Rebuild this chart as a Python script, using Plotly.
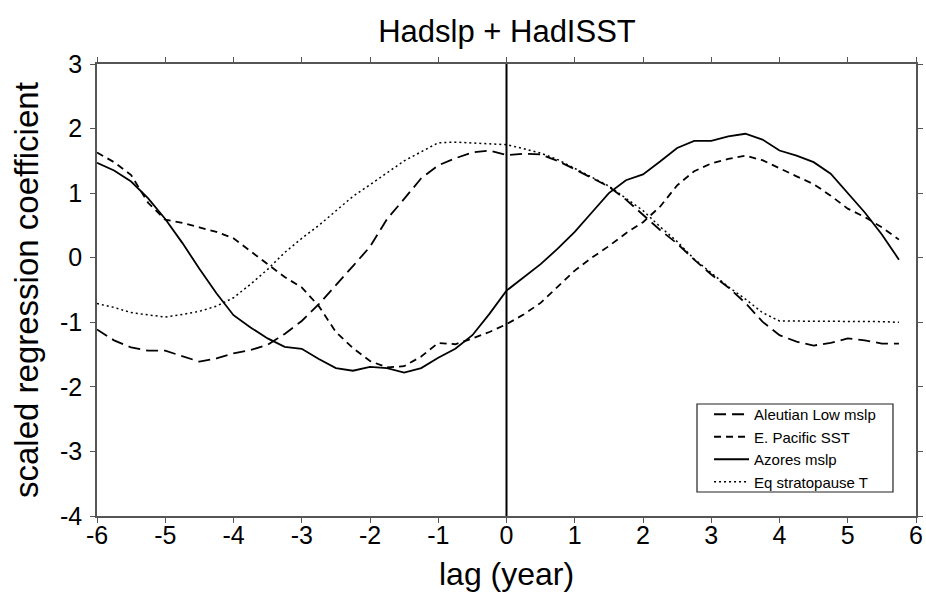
import plotly.graph_objects as go

lags = [-6 + 0.25 * i for i in range(48)]

aleutian = [-1.11, -1.28, -1.39, -1.44, -1.44, -1.52, -1.61, -1.56, -1.48, -1.43, -1.35, -1.18,
            -0.98, -0.72, -0.43, -0.13, 0.17, 0.60, 0.91, 1.23, 1.43, 1.54, 1.63, 1.66,
            1.59, 1.61, 1.60, 1.50, 1.37, 1.24, 1.10, 0.90, 0.66, 0.43, 0.22, -0.03,
            -0.26, -0.46, -0.70, -0.99, -1.20, -1.30, -1.36, -1.32, -1.25, -1.28, -1.33, -1.33]

epac_sst = [1.63, 1.48, 1.28, 0.85, 0.59, 0.54, 0.47, 0.40, 0.30, 0.10, -0.11, -0.30,
            -0.46, -0.75, -1.15, -1.40, -1.60, -1.70, -1.68, -1.53, -1.32, -1.34, -1.25, -1.15,
            -1.03, -0.88, -0.70, -0.45, -0.20, 0.00, 0.18, 0.38, 0.55, 0.79, 1.12, 1.34,
            1.46, 1.53, 1.58, 1.51, 1.38, 1.26, 1.14, 0.96, 0.76, 0.63, 0.47, 0.28]

azores = [1.47, 1.35, 1.18, 0.92, 0.60, 0.23, -0.17, -0.55, -0.89, -1.08, -1.25, -1.38,
          -1.41, -1.57, -1.71, -1.75, -1.69, -1.71, -1.78, -1.71, -1.55, -1.41, -1.20, -0.87,
          -0.51, -0.30, -0.10, 0.14, 0.40, 0.70, 1.00, 1.20, 1.29, 1.49, 1.70, 1.81,
          1.81, 1.88, 1.92, 1.83, 1.66, 1.58, 1.48, 1.30, 1.00, 0.70, 0.36, -0.03]

eq_strat = [-0.71, -0.77, -0.85, -0.89, -0.92, -0.88, -0.83, -0.75, -0.62, -0.41, -0.18, 0.08,
            0.30, 0.50, 0.72, 0.95, 1.13, 1.31, 1.50, 1.64, 1.78, 1.79, 1.78, 1.77,
            1.75, 1.69, 1.62, 1.52, 1.38, 1.25, 1.11, 0.92, 0.73, 0.48, 0.25, -0.02,
            -0.24, -0.45, -0.64, -0.85, -0.98, -0.98, -0.98, -0.98, -0.98, -0.99, -0.99, -1.00]

x_ticks = list(range(-6, 7))
y_ticks = list(range(-4, 4))

FONT = "Liberation Sans Narrow, Arial Narrow, Liberation Sans, Arial, sans-serif"

fig = go.Figure()
series = [
    ("Aleutian Low mslp", aleutian, "12px,6px", 1.8),
    ("E. Pacific SST", epac_sst, "7px,5px", 1.8),
    ("Azores mslp", azores, "solid", 1.8),
    ("Eq stratopause T", eq_strat, "2px,3px", 1.5),
]
for name, ys, dash, w in series:
    fig.add_trace(go.Scatter(x=lags, y=ys, mode="lines", name=name,
                             line=dict(color="black", width=w, dash=dash)))

fig.add_shape(type="line", x0=0, x1=0, y0=-4, y1=3, xref="x", yref="y",
              line=dict(color="black", width=2))
# legend frame
fig.add_shape(type="rect", xref="paper", yref="paper", x0=0.7326, x1=0.9719,
              y0=0.0531, y1=0.2478, layer="above", fillcolor="white",
              line=dict(color="#222222", width=1.2))

axis_common = dict(showgrid=False, zeroline=False, showline=True, linecolor="#555555",
                   linewidth=1.5, mirror="ticks", ticks="outside", ticklen=5,
                   tickcolor="#555555", tickwidth=1.2, automargin=False,
                   tickfont=dict(family=FONT, size=25, color="black"))

fig.update_layout(
    width=926, height=594,
    margin=dict(l=97, r=10, t=64, b=78),
    paper_bgcolor="white", plot_bgcolor="white",
    title=dict(text="Hadslp + HadISST", x=0.5475, xanchor="center", xref="container",
               y=0.948, yanchor="middle",
               font=dict(family=FONT, size=31, color="black")),
    xaxis=dict(range=[-6, 6], tickvals=x_ticks, ticktext=[str(v) for v in x_ticks],
               ticklabelstandoff=-9, **axis_common),
    yaxis=dict(range=[-4, 3], tickvals=y_ticks, ticktext=[str(v) for v in y_ticks],
               ticklabelstandoff=3, **axis_common),
    annotations=[
        dict(text="lag (year)", xref="paper", yref="paper", x=0.5, y=-0.128,
             xanchor="center", yanchor="middle", showarrow=False,
             font=dict(family=FONT, size=32, color="black")),
        dict(text="scaled regression coefficient", xref="paper", yref="paper",
             x=-0.0867, y=0.5, xanchor="center", yanchor="middle", textangle=-90,
             showarrow=False, font=dict(family=FONT, size=33, color="black")),
    ],
    showlegend=True,
    legend=dict(x=0.7473, y=0.1504, xanchor="left", yanchor="middle",
                bgcolor="rgba(0,0,0,0)", borderwidth=0,
                font=dict(family="Liberation Sans, Arial, sans-serif", size=15, color="black"),
                tracegroupgap=0, itemwidth=35),
)

fig.write_html("out.html")
